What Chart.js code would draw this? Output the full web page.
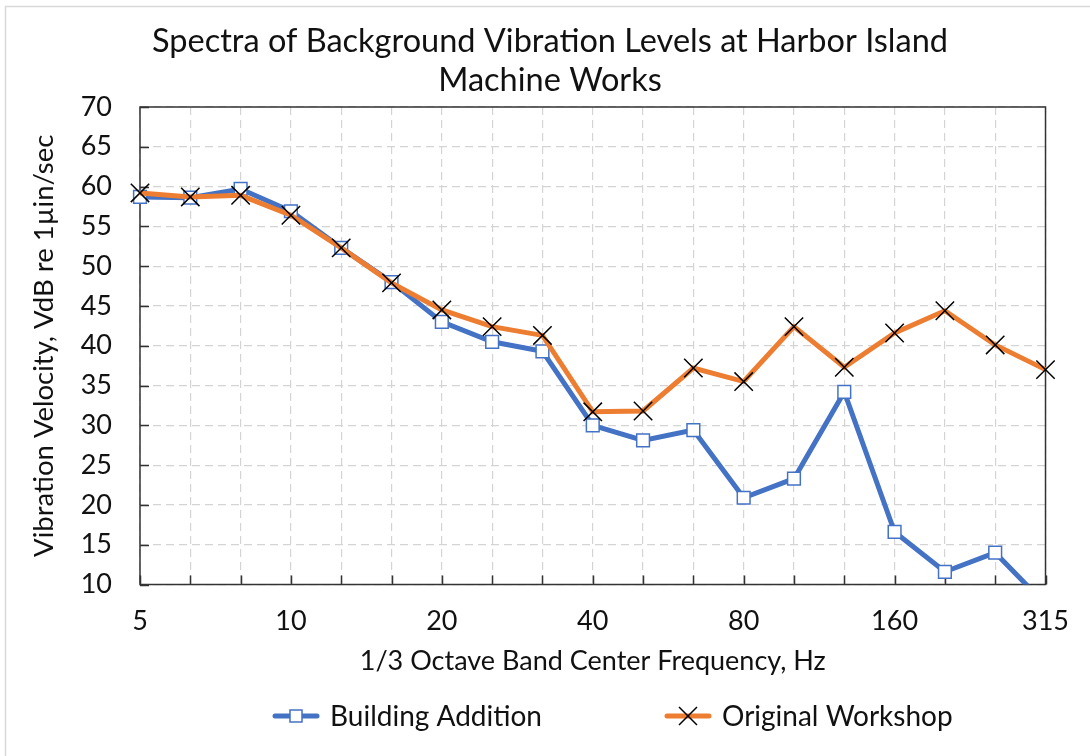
<!DOCTYPE html>
<html>
<head>
<meta charset="utf-8">
<style>
  html, body { margin: 0; padding: 0; background: #fff; }
  #wrap { width: 1090px; height: 756px; }
</style>
<script src="https://cdn.jsdelivr.net/npm/chart.js@4.4.1/dist/chart.umd.min.js"></script>
</head>
<body>
<div id="wrap"><canvas id="c" width="1090" height="756"></canvas></div>
<script>
const categories = ['5','6.3','8','10','12.5','16','20','25','31.5','40','50','63','80','100','125','160','200','250','315'];
const shownTickLabels = ['5','10','20','40','80','160','315'];
const buildingAddition = [58.7,58.6,59.7,56.9,52.3,48.0,43.0,40.5,39.3,30.0,28.1,29.4,20.9,23.3,34.2,16.6,11.6,14.0,7.5];
const originalWorkshop = [59.2,58.7,58.9,56.4,52.3,47.9,44.5,42.4,41.3,31.7,31.8,37.2,35.5,42.4,37.3,41.6,44.4,40.1,37.0];
const titleLines = ['Spectra of Background Vibration Levels at Harbor Island', 'Machine Works'];
const xTitle = '1/3 Octave Band Center Frequency, Hz';
const yTitle = 'Vibration Velocity, VdB re 1\u00b5in/sec';

const FONT = 'Lato, "Open Sans", "Noto Sans", sans-serif';
const TEXT = '#111111';
const BLUE = '#4472C4';
const ORANGE = '#ED7D31';

const framePlugin = {
  id: 'frame',
  afterLayout(chart) {
    if (chart.titleBlock) {
      chart.titleBlock.left = 0;
      chart.titleBlock.right = 1100;
    }
  },
  beforeDraw(chart) {
    const ctx = chart.ctx;
    ctx.save();
    ctx.fillStyle = '#ffffff';
    ctx.fillRect(0, 0, chart.width, chart.height);
    ctx.strokeStyle = '#d9d9d9';
    ctx.lineWidth = 1.5;
    ctx.strokeRect(5.5, 6.5, chart.width + 20, chart.height + 20);
    ctx.restore();
  },
  beforeDatasetsDraw(chart) {
    const {ctx, chartArea: a, scales: {x, y}} = chart;
    ctx.save();
    ctx.strokeStyle = '#333333';
    ctx.lineWidth = 1.5;
    ctx.beginPath();
    x.ticks.forEach((t, i) => {
      const px = Math.round(x.getPixelForTick(i)) + 0.5;
      ctx.moveTo(px, a.bottom); ctx.lineTo(px, a.bottom - 9);
    });
    y.ticks.forEach((t, i) => {
      const py = Math.round(y.getPixelForTick(i)) + 0.5;
      ctx.moveTo(a.left, py); ctx.lineTo(a.left + 9, py);
    });
    ctx.stroke();
    ctx.strokeRect(a.left, a.top, a.right - a.left, a.bottom - a.top);
    ctx.restore();
  }
};

const legendPlugin = {
  id: 'customLegend',
  afterDraw(chart) {
    const ctx = chart.ctx;
    const yMid = 716;
    const starts = [273, 665];
    ctx.save();
    ctx.font = '28px ' + FONT;
    ctx.textBaseline = 'middle';
    ctx.textAlign = 'left';
    chart.data.datasets.forEach((ds, i) => {
      const x0 = starts[i];
      const x1 = x0 + 46;
      const cx = (x0 + x1) / 2;
      ctx.strokeStyle = ds.borderColor;
      ctx.lineWidth = 5;
      ctx.lineCap = 'round';
      ctx.beginPath(); ctx.moveTo(x0 + 2, yMid); ctx.lineTo(x1 - 2, yMid); ctx.stroke();
      ctx.lineCap = 'butt';
      if (ds.pointStyle === 'rect') {
        ctx.fillStyle = '#ffffff';
        ctx.strokeStyle = ds.pointBorderColor;
        ctx.lineWidth = 1.5;
        ctx.fillRect(cx - 6, yMid - 6, 12, 12);
        ctx.strokeRect(cx - 6, yMid - 6, 12, 12);
      } else {
        ctx.strokeStyle = ds.pointBorderColor;
        ctx.lineWidth = 1.5;
        const d = 9;
        ctx.beginPath();
        ctx.moveTo(cx - d, yMid - d); ctx.lineTo(cx + d, yMid + d);
        ctx.moveTo(cx - d, yMid + d); ctx.lineTo(cx + d, yMid - d);
        ctx.stroke();
      }
      ctx.fillStyle = TEXT;
      ctx.fillText(ds.label, x1 + 11, yMid + 1);
    });
    ctx.restore();
  }
};

new Chart(document.getElementById('c'), {
  type: 'line',
  data: {
    labels: categories,
    datasets: [
      {
        label: 'Building Addition',
        data: buildingAddition,
        borderColor: BLUE,
        backgroundColor: BLUE,
        borderWidth: 5,
        pointStyle: 'rect',
        pointRadius: 9,
        pointBackgroundColor: '#ffffff',
        pointBorderColor: BLUE,
        pointBorderWidth: 1.5,
        tension: 0,
        order: 1,
        clip: {left: 20, top: 20, right: 20, bottom: 0}
      },
      {
        label: 'Original Workshop',
        data: originalWorkshop,
        borderColor: ORANGE,
        backgroundColor: ORANGE,
        borderWidth: 5,
        pointStyle: 'crossRot',
        pointRadius: 13,
        pointBorderColor: '#000000',
        pointBorderWidth: 1.5,
        tension: 0,
        order: 0,
        clip: {left: 20, top: 20, right: 20, bottom: 0}
      }
    ]
  },
  options: {
    responsive: false,
    animation: false,
    devicePixelRatio: 1,
    layout: { padding: { left: 5, right: 44, top: 0, bottom: 66 } },
    plugins: {
      legend: { display: false },
      tooltip: { enabled: false },
      title: {
        display: true,
        text: titleLines,
        color: TEXT,
        font: { family: FONT, size: 32.5, weight: 'normal', lineHeight: 1.2 },
        padding: { top: 22.5, bottom: 6.5 }
      }
    },
    scales: {
      x: {
        type: 'category',
        offset: false,
        grid: { color: '#d4d4d4', lineWidth: 1.2, drawTicks: false },
        border: { display: false, dash: [8, 5] },
        ticks: {
          autoSkip: false,
          maxRotation: 0,
          padding: 21,
          color: TEXT,
          font: { family: FONT, size: 27 },
          callback: function (value, index) {
            const lab = this.getLabelForValue(value);
            return shownTickLabels.includes(lab) ? lab : '';
          }
        },
        title: {
          display: true,
          text: xTitle,
          color: TEXT,
          font: { family: FONT, size: 27, lineHeight: 1.2 },
          padding: { top: 0, bottom: 13 }
        },
        afterFit(scale) { scale.height = 105.5; }
      },
      y: {
        min: 10,
        max: 70,
        grid: { color: '#d4d4d4', lineWidth: 1.2, drawTicks: false },
        border: { display: false, dash: [8, 5] },
        ticks: {
          stepSize: 5,
          padding: 28,
          color: TEXT,
          font: { family: FONT, size: 27 }
        },
        title: {
          display: true,
          text: yTitle,
          color: TEXT,
          font: { family: FONT, size: 27.5, lineHeight: 1.2 },
          padding: { top: 23, bottom: 0 }
        },
        afterFit(scale) { scale.width = 135; }
      }
    }
  },
  plugins: [framePlugin, legendPlugin]
});
</script>
</body>
</html>
